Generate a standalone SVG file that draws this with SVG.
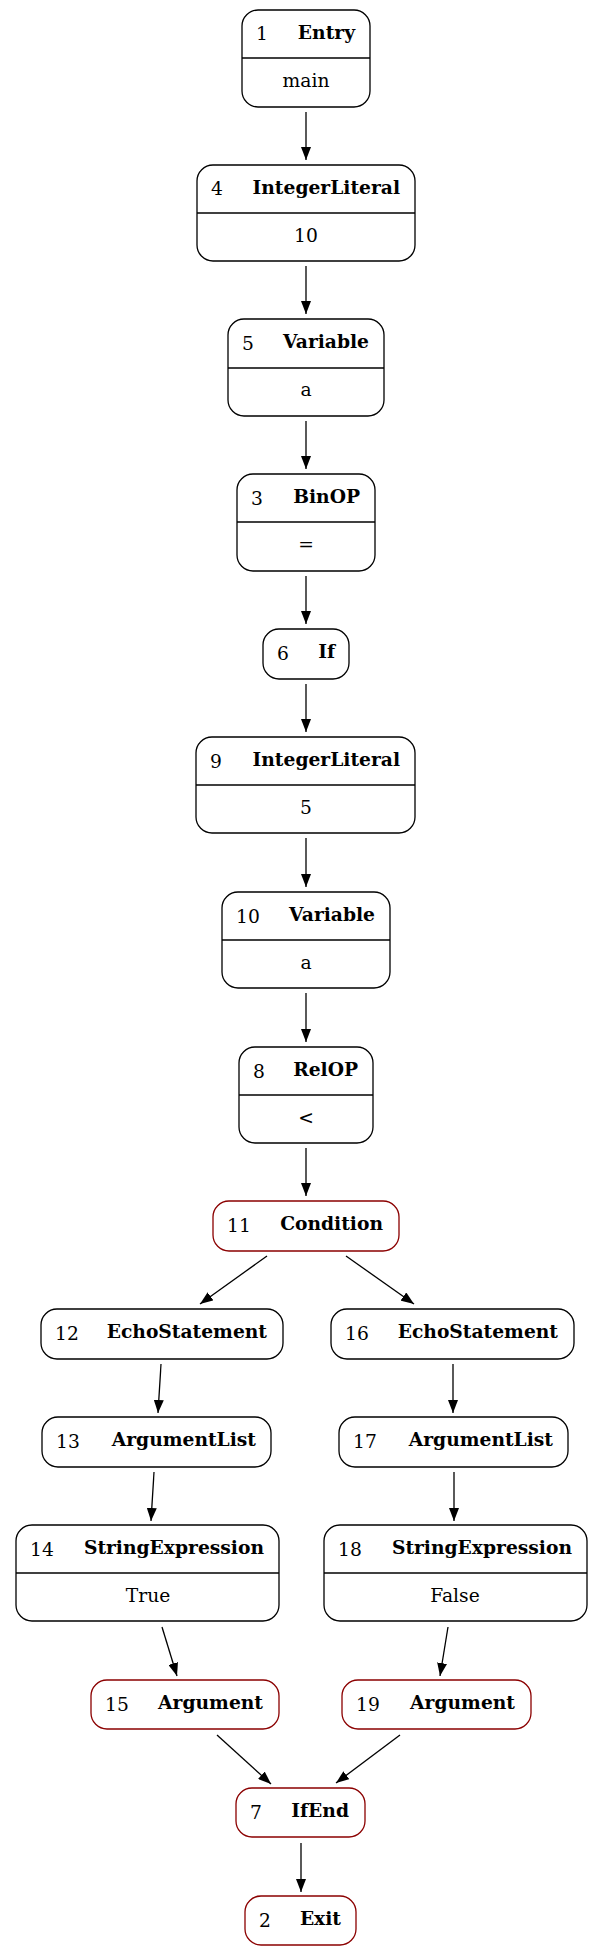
<svg xmlns="http://www.w3.org/2000/svg" width="603" height="1956" viewBox="0 0 603 1956">
<defs>
<style>
.box{fill:#fff;stroke:#000;stroke-width:1.3}
.red{fill:#fff;stroke:#8b0000;stroke-width:1.3}
.div{stroke:#000;stroke-width:1.3}
.num{font-family:"DejaVu Serif",serif;font-size:18.7px;fill:#000}
.name{font-family:"DejaVu Serif",serif;font-size:18.7px;font-weight:bold;fill:#000;text-anchor:end}
.val{font-family:"DejaVu Serif",serif;font-size:18.7px;fill:#000;text-anchor:middle}
.edge{stroke:#000;stroke-width:1.3;fill:none}
</style>
<marker id="ah" viewBox="0 0 13 10" refX="13" refY="5" markerWidth="13" markerHeight="10" markerUnits="userSpaceOnUse" orient="auto">
<path d="M0,0 L13,5 L0,10 Z" fill="#000"/>
</marker>
</defs>
<rect width="603" height="1956" fill="#fff"/>
<g id="connectors">
<line class="edge" x1="306" y1="112" x2="306" y2="160" marker-end="url(#ah)"/>
<line class="edge" x1="306" y1="266" x2="306" y2="314" marker-end="url(#ah)"/>
<line class="edge" x1="306" y1="421" x2="306" y2="469" marker-end="url(#ah)"/>
<line class="edge" x1="306" y1="576" x2="306" y2="624" marker-end="url(#ah)"/>
<line class="edge" x1="306" y1="684" x2="306" y2="732" marker-end="url(#ah)"/>
<line class="edge" x1="306" y1="838" x2="306" y2="887" marker-end="url(#ah)"/>
<line class="edge" x1="306" y1="993" x2="306" y2="1042" marker-end="url(#ah)"/>
<line class="edge" x1="306" y1="1148" x2="306" y2="1196" marker-end="url(#ah)"/>
<line class="edge" x1="267" y1="1256" x2="200" y2="1304" marker-end="url(#ah)"/>
<line class="edge" x1="346" y1="1256" x2="414" y2="1304" marker-end="url(#ah)"/>
<line class="edge" x1="161" y1="1364" x2="158" y2="1413" marker-end="url(#ah)"/>
<line class="edge" x1="154" y1="1472" x2="151" y2="1521" marker-end="url(#ah)"/>
<line class="edge" x1="453" y1="1364" x2="453" y2="1413" marker-end="url(#ah)"/>
<line class="edge" x1="454" y1="1472" x2="454" y2="1521" marker-end="url(#ah)"/>
<line class="edge" x1="162" y1="1627" x2="177" y2="1676" marker-end="url(#ah)"/>
<line class="edge" x1="448" y1="1627" x2="440" y2="1676" marker-end="url(#ah)"/>
<line class="edge" x1="217" y1="1735" x2="271" y2="1784" marker-end="url(#ah)"/>
<line class="edge" x1="400" y1="1735" x2="336" y2="1783" marker-end="url(#ah)"/>
<line class="edge" x1="301" y1="1843" x2="301" y2="1892" marker-end="url(#ah)"/>
</g>
<g id="node1">
<rect class="box" x="242" y="10" width="128" height="97" rx="16"/>
<line class="div" x1="242" y1="58" x2="370" y2="58"/>
<text class="num" x="256" y="40">1</text><text class="name" x="355" y="39">Entry</text>
<text class="val" x="306" y="87">main</text>
</g>
<g id="node4">
<rect class="box" x="197" y="165" width="218" height="96" rx="16"/>
<line class="div" x1="197" y1="213" x2="415" y2="213"/>
<text class="num" x="211" y="195">4</text><text class="name" x="400" y="194">IntegerLiteral</text>
<text class="val" x="306" y="242">10</text>
</g>
<g id="node5">
<rect class="box" x="228" y="319" width="156" height="97" rx="16"/>
<line class="div" x1="228" y1="368" x2="384" y2="368"/>
<text class="num" x="242" y="350">5</text><text class="name" x="369" y="348">Variable</text>
<text class="val" x="306" y="396">a</text>
</g>
<g id="node3">
<rect class="box" x="237" y="474" width="138" height="97" rx="16"/>
<line class="div" x1="237" y1="522" x2="375" y2="522"/>
<text class="num" x="251" y="505">3</text><text class="name" x="360" y="503">BinOP</text>
<text class="val" x="306" y="551">=</text>
</g>
<g id="node6">
<rect class="box" x="263" y="629" width="86" height="50" rx="16"/>
<text class="num" x="277" y="660">6</text><text class="name" x="335" y="658">If</text>
</g>
<g id="node9">
<rect class="box" x="196" y="737" width="219" height="96" rx="16"/>
<line class="div" x1="196" y1="785" x2="415" y2="785"/>
<text class="num" x="210" y="768">9</text><text class="name" x="400" y="766">IntegerLiteral</text>
<text class="val" x="306" y="814">5</text>
</g>
<g id="node10">
<rect class="box" x="222" y="892" width="168" height="96" rx="16"/>
<line class="div" x1="222" y1="940" x2="390" y2="940"/>
<text class="num" x="236" y="923">10</text><text class="name" x="375" y="921">Variable</text>
<text class="val" x="306" y="969">a</text>
</g>
<g id="node8">
<rect class="box" x="239" y="1047" width="134" height="96" rx="16"/>
<line class="div" x1="239" y1="1095" x2="373" y2="1095"/>
<text class="num" x="253" y="1078">8</text><text class="name" x="358" y="1076">RelOP</text>
<text class="val" x="306" y="1124">&lt;</text>
</g>
<g id="node11">
<rect class="red" x="213" y="1201" width="186" height="50" rx="16"/>
<text class="num" x="227" y="1232">11</text><text class="name" x="383" y="1230">Condition</text>
</g>
<g id="node12">
<rect class="box" x="41" y="1309" width="242" height="50" rx="16"/>
<text class="num" x="55" y="1340">12</text><text class="name" x="267" y="1338">EchoStatement</text>
</g>
<g id="node16">
<rect class="box" x="331" y="1309" width="243" height="50" rx="16"/>
<text class="num" x="345" y="1340">16</text><text class="name" x="558" y="1338">EchoStatement</text>
</g>
<g id="node13">
<rect class="box" x="42" y="1417" width="229" height="50" rx="16"/>
<text class="num" x="56" y="1448">13</text><text class="name" x="256" y="1446">ArgumentList</text>
</g>
<g id="node17">
<rect class="box" x="339" y="1417" width="229" height="50" rx="16"/>
<text class="num" x="353" y="1448">17</text><text class="name" x="553" y="1446">ArgumentList</text>
</g>
<g id="node14">
<rect class="box" x="16" y="1525" width="263" height="96" rx="16"/>
<line class="div" x1="16" y1="1573" x2="279" y2="1573"/>
<text class="num" x="30" y="1556">14</text><text class="name" x="264" y="1554">StringExpression</text>
<text class="val" x="148" y="1602">True</text>
</g>
<g id="node18">
<rect class="box" x="324" y="1525" width="263" height="96" rx="16"/>
<line class="div" x1="324" y1="1573" x2="587" y2="1573"/>
<text class="num" x="338" y="1556">18</text><text class="name" x="572" y="1554">StringExpression</text>
<text class="val" x="455" y="1602">False</text>
</g>
<g id="node15">
<rect class="red" x="91" y="1680" width="188" height="49" rx="16"/>
<text class="num" x="105" y="1711">15</text><text class="name" x="263" y="1709">Argument</text>
</g>
<g id="node19">
<rect class="red" x="342" y="1680" width="189" height="49" rx="16"/>
<text class="num" x="356" y="1711">19</text><text class="name" x="515" y="1709">Argument</text>
</g>
<g id="node7">
<rect class="red" x="236" y="1788" width="129" height="49" rx="16"/>
<text class="num" x="250" y="1819">7</text><text class="name" x="349" y="1817">IfEnd</text>
</g>
<g id="node2">
<rect class="red" x="245" y="1896" width="111" height="49" rx="16"/>
<text class="num" x="259" y="1927">2</text><text class="name" x="341" y="1925">Exit</text>
</g>
</svg>
